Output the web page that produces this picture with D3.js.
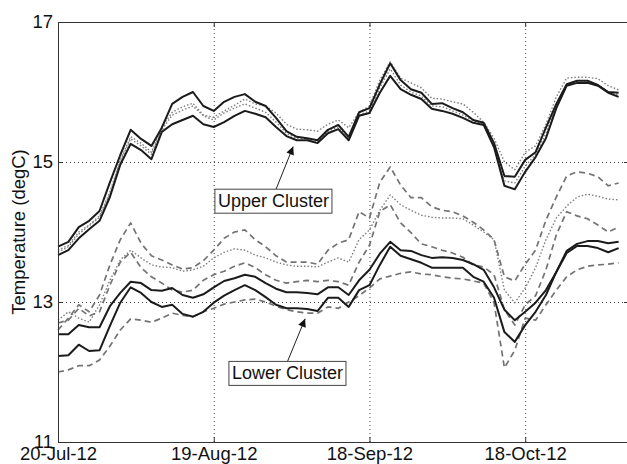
<!DOCTYPE html>
<html>
<head>
<meta charset="utf-8">
<script src="https://cdn.jsdelivr.net/npm/d3@7"></script>
<style>
  html, body { margin: 0; padding: 0; background: #fff; }
  svg { display: block; font-family: "Liberation Sans", Arial, sans-serif; }
</style>
</head>
<body>
<svg id="chart" width="627" height="464"></svg>
<script>
// days after 20-Jul-12, shared by every series
const days = [0, 2, 4, 6, 8, 10, 12, 14, 16, 18, 20, 22, 24, 26, 28, 30, 32, 34, 36, 38,
  40, 42, 44, 46, 48, 50, 52, 54, 56, 58, 60, 62, 64, 66, 68, 70, 72, 74, 76, 78,
  80, 82, 84, 86, 88, 90, 92, 94, 96, 98, 100, 102, 104, 106, 108]

// upper cluster (degC)
const upper_top = [13.79, 13.86, 14.07, 14.16, 14.30, 14.71, 15.10, 15.46, 15.33, 15.23,
  15.49, 15.83, 15.93, 16.00, 15.80, 15.73, 15.86, 15.93, 15.97, 15.86,
  15.80, 15.63, 15.44, 15.36, 15.34, 15.31, 15.46, 15.53, 15.36, 15.71,
  15.77, 16.11, 16.41, 16.17, 16.04, 15.99, 15.83, 15.84, 15.77, 15.71,
  15.60, 15.56, 15.27, 14.80, 14.79, 15.03, 15.14, 15.49, 15.83, 16.11,
  16.16, 16.16, 16.10, 16.00, 15.99]
const upper_bottom = [13.67, 13.74, 13.91, 14.04, 14.16, 14.50, 14.96, 15.26, 15.17, 15.04,
  15.43, 15.54, 15.60, 15.66, 15.54, 15.50, 15.57, 15.66, 15.73, 15.69,
  15.64, 15.50, 15.37, 15.31, 15.31, 15.27, 15.41, 15.47, 15.31, 15.66,
  15.70, 15.99, 16.23, 16.04, 15.96, 15.90, 15.76, 15.73, 15.69, 15.63,
  15.56, 15.53, 15.21, 14.66, 14.61, 14.86, 15.07, 15.34, 15.77, 16.09,
  16.13, 16.13, 16.09, 15.99, 15.93]
const upper_dot_a = [13.74, 13.81, 14.00, 14.10, 14.23, 14.57, 15.03, 15.36, 15.27, 15.14,
  15.50, 15.71, 15.79, 15.84, 15.67, 15.64, 15.73, 15.81, 15.90, 15.83,
  15.80, 15.70, 15.54, 15.47, 15.46, 15.44, 15.54, 15.60, 15.49, 15.71,
  15.80, 16.17, 16.43, 16.20, 16.13, 16.06, 15.91, 15.90, 15.86, 15.83,
  15.71, 15.57, 15.34, 15.00, 14.89, 15.14, 15.23, 15.54, 15.93, 16.20,
  16.21, 16.21, 16.19, 16.09, 16.03]
const upper_dot_b = [13.71, 13.79, 13.97, 14.09, 14.21, 14.54, 15.01, 15.33, 15.23, 15.11,
  15.46, 15.67, 15.74, 15.80, 15.66, 15.60, 15.70, 15.77, 15.83, 15.77,
  15.71, 15.57, 15.41, 15.34, 15.33, 15.29, 15.44, 15.50, 15.34, 15.67,
  15.73, 16.06, 16.33, 16.10, 16.00, 15.94, 15.80, 15.79, 15.73, 15.67,
  15.59, 15.54, 15.24, 14.73, 14.70, 14.94, 15.11, 15.41, 15.80, 16.10,
  16.14, 16.14, 16.10, 16.00, 15.96]

// lower cluster (degC)
const lower_black_a = [12.54, 12.54, 12.67, 12.64, 12.64, 12.94, 13.13, 13.29, 13.27, 13.17,
  13.16, 13.20, 13.10, 13.06, 13.11, 13.21, 13.30, 13.34, 13.39, 13.36,
  13.27, 13.19, 13.14, 13.14, 13.13, 13.11, 13.21, 13.21, 13.10, 13.31,
  13.46, 13.69, 13.86, 13.74, 13.73, 13.67, 13.63, 13.64, 13.63, 13.60,
  13.54, 13.46, 13.21, 12.89, 12.74, 12.86, 12.99, 13.17, 13.43, 13.73,
  13.83, 13.87, 13.87, 13.84, 13.86]
const lower_black_b = [12.23, 12.24, 12.39, 12.30, 12.31, 12.66, 12.99, 13.21, 13.13, 13.00,
  12.93, 12.96, 12.83, 12.79, 12.86, 12.99, 13.09, 13.17, 13.24, 13.17,
  13.07, 12.96, 12.91, 12.91, 12.90, 12.87, 13.06, 13.06, 12.93, 13.17,
  13.24, 13.53, 13.79, 13.66, 13.61, 13.56, 13.49, 13.49, 13.49, 13.49,
  13.36, 13.29, 13.06, 12.57, 12.43, 12.67, 12.86, 13.10, 13.43, 13.70,
  13.80, 13.80, 13.77, 13.71, 13.77]
const lower_dash_top = [12.60, 12.77, 12.96, 12.86, 13.10, 13.53, 13.89, 14.13, 13.84, 13.66,
  13.60, 13.53, 13.47, 13.49, 13.59, 13.74, 13.91, 14.00, 14.03, 13.89,
  13.79, 13.66, 13.57, 13.57, 13.57, 13.54, 13.74, 13.84, 13.89, 14.29,
  14.20, 14.71, 14.93, 14.67, 14.49, 14.49, 14.36, 14.31, 14.29, 14.23,
  14.14, 14.03, 13.89, 13.36, 13.30, 13.54, 13.74, 14.17, 14.50, 14.80,
  14.86, 14.84, 14.79, 14.66, 14.70]
const lower_dot_mid = [12.74, 12.86, 12.77, 12.71, 12.96, 13.31, 13.60, 13.74, 13.63, 13.53,
  13.50, 13.49, 13.44, 13.46, 13.51, 13.63, 13.71, 13.76, 13.74, 13.67,
  13.63, 13.57, 13.53, 13.51, 13.51, 13.50, 13.57, 13.63, 13.57, 13.89,
  14.03, 14.31, 14.53, 14.39, 14.31, 14.24, 14.21, 14.20, 14.20, 14.19,
  14.10, 14.00, 13.89, 13.17, 12.99, 13.20, 13.49, 13.89, 14.20, 14.37,
  14.50, 14.54, 14.51, 14.47, 14.46]
const lower_dash_mid = [12.70, 12.74, 12.91, 12.80, 12.86, 13.24, 13.57, 13.71, 13.49, 13.36,
  13.27, 13.17, 13.14, 13.17, 13.31, 13.39, 13.44, 13.51, 13.56, 13.49,
  13.39, 13.31, 13.27, 13.29, 13.31, 13.29, 13.31, 13.29, 13.24, 13.57,
  13.81, 14.29, 14.39, 14.13, 13.99, 13.83, 13.79, 13.74, 13.70, 13.64,
  13.53, 13.50, 13.39, 12.89, 12.67, 12.96, 13.09, 13.46, 13.96, 14.29,
  14.23, 14.19, 14.10, 14.00, 14.07]
const lower_dash_bottom = [12.00, 12.03, 12.09, 12.09, 12.17, 12.37, 12.60, 12.76, 12.74, 12.71,
  12.77, 12.84, 12.81, 12.79, 12.86, 12.91, 12.97, 13.00, 13.03, 13.04,
  13.00, 12.94, 12.89, 12.86, 12.84, 12.84, 12.93, 12.91, 13.00, 13.09,
  13.20, 13.33, 13.37, 13.41, 13.43, 13.40, 13.39, 13.36, 13.34, 13.33,
  13.30, 13.27, 12.99, 12.06, 12.31, 12.77, 12.74, 12.96, 13.17, 13.36,
  13.46, 13.51, 13.53, 13.54, 13.56]

// axis ticks
const x_ticks = ["2012-07-20", "2012-08-19", "2012-09-18", "2012-10-18"]
const y_ticks = [11, 13, 15, 17]
const y_title = "Temperature (degC)"

// cluster labels: box centre and arrow (tail, tip) in data coordinates
const cluster_names = ["Upper Cluster", "Lower Cluster"]
const cluster_box_day = [41.5, 44.2]
const cluster_box_temp = [14.44, 11.98]
const cluster_arrow_from = [[42.0, 14.61], [44.1, 12.13]]
const cluster_arrow_to = [[45.3, 15.22], [47.6, 12.76]]

const margin = { top: 22, bottom: 22, left: 58, right: -2 }
const width = 627
const height = 464

const t0 = Date.UTC(2012, 6, 20)
const toDate = (d) => new Date(t0 + d * 864e5)

const svg = d3.select("#chart")

const xScale = d3
  .scaleUtc()
  .domain([toDate(0), toDate(110)])
  .range([margin.left, width - margin.right])

const yScale = d3
  .scaleLinear()
  .domain([11, 17])
  .range([height - margin.bottom, margin.top])

const tick_dates = x_ticks.map((s) => new Date(s + "T00:00:00Z"))
const plot_h = height - margin.bottom - margin.top
const plot_w = width - margin.right - margin.left

/**
 * Dotted grid
 */
const g_grid = svg.append("g")
g_grid
  .append("g")
  .attr("transform", `translate(0,${height - margin.bottom})`)
  .call(d3.axisBottom(xScale).tickValues(tick_dates.slice(1)).tickSize(-plot_h).tickFormat(""))
g_grid
  .append("g")
  .attr("transform", `translate(${margin.left},0)`)
  .call(d3.axisLeft(yScale).tickValues([13, 15]).tickSize(-plot_w).tickFormat(""))
g_grid.selectAll(".domain").remove()
g_grid
  .selectAll(".tick line")
  .attr("stroke", "#444")
  .attr("stroke-width", 1)
  .attr("stroke-dasharray", "1,3")

/**
 * Series
 */
const series = [
  { values: upper_dot_a, kind: "dot" },
  { values: upper_dot_b, kind: "dot" },
  { values: lower_dash_top, kind: "dash" },
  { values: lower_dot_mid, kind: "dot" },
  { values: lower_dash_mid, kind: "dash" },
  { values: lower_dash_bottom, kind: "dash" },
  { values: upper_top, kind: "solid" },
  { values: upper_bottom, kind: "solid" },
  { values: lower_black_a, kind: "solid" },
  { values: lower_black_b, kind: "solid" },
]

const styles = {
  solid: { stroke: "#1b1b1b", width: 2, dash: null },
  dash: { stroke: "#737373", width: 1.7, dash: "6,4" },
  dot: { stroke: "#7d7d7d", width: 1.4, dash: "1.5,2" },
}

const line = d3
  .line()
  .x((d) => xScale(toDate(d.day)))
  .y((d) => yScale(d.temp))

svg
  .append("g")
  .selectAll("path")
  .data(series)
  .enter()
  .append("path")
  .attr("fill", "none")
  .attr("stroke", (s) => styles[s.kind].stroke)
  .attr("stroke-width", (s) => styles[s.kind].width)
  .attr("stroke-dasharray", (s) => styles[s.kind].dash)
  .attr("stroke-linejoin", "round")
  .attr("d", (s) => line(s.values.map((v, i) => ({ day: days[i], temp: v }))))

/**
 * Axes, box and inward ticks
 */
const axis_color = "#333"
const fmt = d3.utcFormat("%d-%b-%y")

const g_x = svg
  .append("g")
  .attr("transform", `translate(0,${height - margin.bottom})`)
  .call(d3.axisBottom(xScale).tickValues(tick_dates).tickSizeInner(-5).tickSizeOuter(0).tickPadding(5).tickFormat(fmt))
const g_y = svg
  .append("g")
  .attr("transform", `translate(${margin.left},0)`)
  .call(d3.axisLeft(yScale).tickValues(y_ticks).tickSizeInner(-5).tickSizeOuter(0).tickPadding(5).tickFormat(d3.format("d")))
const g_top = svg
  .append("g")
  .attr("transform", `translate(0,${margin.top})`)
  .call(d3.axisTop(xScale).tickValues(tick_dates).tickSizeInner(-5).tickSizeOuter(0).tickFormat(""))
const g_right = svg
  .append("g")
  .attr("transform", `translate(${width - margin.right},0)`)
  .call(d3.axisRight(yScale).tickValues(y_ticks).tickSizeInner(-5).tickSizeOuter(0).tickFormat(""))

;[g_x, g_y, g_top, g_right].forEach((g) => {
  g.attr("font-size", 18.5).attr("font-family", null)
  g.selectAll(".domain, .tick line").attr("stroke", axis_color).attr("stroke-width", 1)
  g.selectAll("text").attr("fill", "#111")
})

svg
  .append("text")
  .attr("transform", `translate(18,${(margin.top + height - margin.bottom) / 2}) rotate(-90)`)
  .attr("text-anchor", "middle")
  .attr("dominant-baseline", "central")
  .attr("font-size", 18.5)
  .attr("fill", "#111")
  .text(y_title)

/**
 * Cluster labels with arrows
 */
svg
  .append("defs")
  .append("marker")
  .attr("id", "arrow_head")
  .attr("viewBox", "0 0 10 10")
  .attr("refX", 10)
  .attr("refY", 5)
  .attr("markerUnits", "userSpaceOnUse")
  .attr("markerWidth", 11)
  .attr("markerHeight", 8)
  .attr("orient", "auto")
  .append("path")
  .attr("d", "M0,0 L10,5 L0,10 Z")
  .attr("fill", "#111")

const g_labels = svg.append("g")
cluster_names.forEach((name, i) => {
  const [fd, ft] = cluster_arrow_from[i]
  const [td, tt] = cluster_arrow_to[i]
  g_labels
    .append("line")
    .attr("x1", xScale(toDate(fd)))
    .attr("y1", yScale(ft))
    .attr("x2", xScale(toDate(td)))
    .attr("y2", yScale(tt))
    .attr("stroke", "#222")
    .attr("stroke-width", 1)
    .attr("marker-end", "url(#arrow_head)")

  const cx = xScale(toDate(cluster_box_day[i]))
  const cy = yScale(cluster_box_temp[i])
  const rect = g_labels.append("rect")
  const txt = g_labels
    .append("text")
    .attr("x", cx)
    .attr("y", cy)
    .attr("text-anchor", "middle")
    .attr("dominant-baseline", "central")
    .attr("font-size", 18)
    .attr("fill", "#111")
    .text(name)
  const w = txt.node().getComputedTextLength() + 6
  rect
    .attr("x", cx - w / 2)
    .attr("y", cy - 12)
    .attr("width", w)
    .attr("height", 24)
    .attr("fill", "#fff")
    .attr("stroke", "#444")
    .attr("stroke-width", 1)
})
</script>
</body>
</html>
